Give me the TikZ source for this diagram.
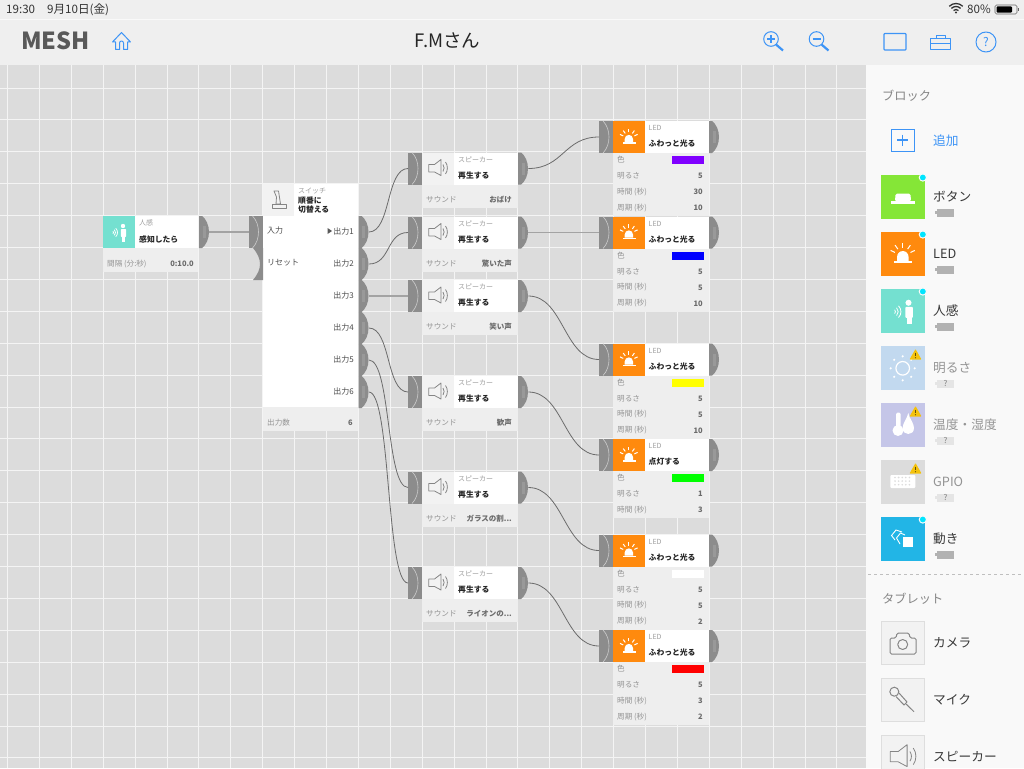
\documentclass[tikz,border=0pt]{standalone}
\usepackage{fontspec}
\setmainfont{Noto Sans CJK JP}
\usepackage{xcolor}
\usetikzlibrary{positioning}

\definecolor{canvasbg}{HTML}{DCDCDC}
\definecolor{barbg}{HTML}{EFEFEF}
\definecolor{panelbg}{HTML}{F9F9F9}
\definecolor{setbg}{HTML}{EEEEEE}
\definecolor{iconbg}{HTML}{F2F2F2}
\definecolor{portgrey}{HTML}{8C8C8C}
\definecolor{linkblue}{HTML}{3D94F6}
\definecolor{ledorange}{HTML}{FF8A0E}
\definecolor{personteal}{HTML}{74E0D0}
\definecolor{buttongreen}{HTML}{85E637}
\definecolor{lightblue}{HTML}{C2D9EF}
\definecolor{tempviolet}{HTML}{C5C6E8}
\definecolor{motionblue}{HTML}{22B5E6}
\definecolor{warnyellow}{HTML}{F4C20D}
\definecolor{dotcyan}{HTML}{00E5FF}
\definecolor{ledpurple}{HTML}{8000FF}
\definecolor{ledblue}{HTML}{0000FF}
\definecolor{ledyellow}{HTML}{FFFF00}
\definecolor{ledgreen}{HTML}{00FF00}
\definecolor{ledred}{HTML}{FF0000}

\tikzset{
	ledicon/.pic={
		\fill[white] (11.7,21) -- (11.7,18) arc (180:360:4.15) -- (20,21) -- cycle;
		\fill[white] (9.5,21) rectangle (22.5,22.8);
		\foreach \a in {205,235,270,305,335}
			\draw[white,line width=1] (15.8,17.5)++(\a:6.2) -- ++(\a:3.5);
	},
	bigled/.pic={\pic[scale=1.375] {ledicon};},
	speakericon/.pic={
		\draw[iconline] (6.7,12) -- (12.5,12) -- (19,7) -- (19,23) -- (12.5,19.5) -- (6.7,19.5) -- cycle;
		\draw[iconline] (21,12) .. controls (22.5,14) and (22.5,17) .. (21,19);
		\draw[iconline] (23.5,9.5) .. controls (26,13) and (26,18) .. (23.5,21.5);
	},
	bigspeaker/.pic={\pic[scale=1.375,line width=1pt] {speakericon};},
	personicon/.pic={
		\fill[white] (20,10) circle (2.2);
		\fill[white,rounded corners=.8] (17.8,13) rectangle (23.2,21);
		\fill[white] (18.6,20) rectangle (22.4,25.5);
		\foreach \r in {2,4,6}
			\draw[white,line width=.8] (8.5,16.5)++(-45:\r) arc (-45:45:\r);
	},
	bigperson/.pic={\pic[scale=1.375] {personicon};},
	switchicon/.pic={
		\draw[iconline] (9,20) rectangle (23,24);
		\draw[iconline] (11,7) -- (15.5,7) -- (17.5,20) -- (13,20) -- (13.5,13) -- cycle;
	},
	buttonicon/.pic={
		\fill[white] (10,26) rectangle (34.3,28.5);
		\fill[white,rounded corners=1.5] (14,26.5) -- (14.5,18.7) -- (29.5,18.7) -- (30,26.5) -- cycle;
	},
	sunicon/.pic={
		\draw[white,line width=1.2] (21.7,22.3) circle (6.8);
		\foreach \a in {0,45,...,315}
			\fill[white] (21.7,22.3)++(\a:12) circle (1.2);
	},
	tempicon/.pic={
		\fill[white] (17,27.5) circle (5.5);
		\fill[white,rounded corners=1.5] (15,9.5) rectangle (19.5,27);
		\fill[white] (27.3,10) .. controls (28.5,16) and (33,20) .. (33,25) .. controls (33,33) and (21.6,33) .. (21.6,25) .. controls (21.6,20) and (26,16) .. (27.3,10) -- cycle;
	},
	gpioicon/.pic={
		\fill[white,rounded corners=1] (9.3,15) rectangle (34.3,28);
		\foreach \i in {0,...,4}
			\foreach \j in {0,1,2}
				\fill[canvasbg] (14+\i*3.6,17.5+\j*3.6) circle (.9);
	},
	motionicon/.pic={
		\draw[white,line width=.9] (21,15) -- (15,13) -- (10.5,18.5) -- (14,23);
		\draw[white,line width=.9] (24,18) -- (19.5,16) -- (15.5,21) -- (19,27);
		\fill[white] (21.7,20) rectangle (32.3,30);
	},
	cameraicon/.pic={
		\draw[iconline,line width=1,rounded corners=1.5] (9,17) -- (15,17) -- (16,12) -- (28,12) -- (29,17) -- (35,17) -- (35,33) -- (9,33) -- cycle;
		\draw[iconline,line width=1] (21.7,23.5) circle (5);
	},
	micicon/.pic={
		\draw[iconline,line width=1] (13.3,13.7) circle (4.5);
		\draw[iconline,line width=1] (18,15) -- (26,24) -- (23,27) -- (15,18.5);
		\draw[iconline,line width=1] (24.5,25.5) -- (33,33.7);
	},
	warnmark/.pic={
		\fill[warnyellow,rounded corners=.6] (0,0) -- (-6,10.5) -- (6,10.5) -- cycle;
		\draw[black!60!warnyellow,line width=1] (0,3.5) -- (0,7);
		\fill[black!60!warnyellow] (0,8.7) circle (.6);
	},
}

\newcommand{\outport}[3]{
	\fill[portgrey,shift={(#2,#3)}] (0,0) -- (3,0) .. controls (7,3) and (10,9) .. (10,16) .. controls (10,23) and (7,29) .. (3,32) -- (0,32) -- cycle;
	\fill[black!30!white,opacity=.35,shift={(#2,#3)}] (3.5,10) rectangle (6.5,22);
	\node[portnode,anchor=west] (#1) at (#2,#3+16) {};
}
\newcommand{\inport}[3]{
	\fill[portgrey] (#2,#3) rectangle ++(14,32);
	\draw[black!20!white,line width=.6,shift={(#2,#3)}] (4,0) .. controls (8,4) and (10,10) .. (10,16) .. controls (10,22) and (8,28) .. (4,32);
	\node[portnode,minimum width=14pt,anchor=west] (#1) at (#2,#3+16) {};
}
\newcommand{\freeport}[3]{
	\fill[portgrey,shift={(#2,#3)}] (0,0) -- (10,0) -- (10,32) -- (0,32) .. controls (5,26) and (7,21) .. (7,16) .. controls (7,11) and (5,6) .. (0,0) -- cycle;
	\node[portnode,anchor=west] (#1) at (#2,#3+16) {};
}
\newcommand{\setrow}[6]{
	\node[setlabel,anchor=west] (#1l) at (#2,#4) {#5};
	\node[setvalue,anchor=east] (#1v) at (#3,#4) {#6};
}
\newcommand{\speakerblock}[3]{
	\inport{#1in}{408}{#2}
	\fill[iconbg] (422,#2) rectangle ++(32,32);
	\fill[white] (454,#2) rectangle ++(63.5,32);
	\fill[setbg] (422,#2+32) rectangle ++(95.5,23);
	\pic at (422,#2) {speakericon};
	\node[kindtext,anchor=west] (#1kind) at (458,#2+7) {スピーカー};
	\node[titletext,anchor=west] (#1title) at (458,#2+23) {再生する};
	\setrow{#1s}{426}{512}{#2+47}{サウンド}{#3}
	\outport{#1out}{518}{#2}
}
\newcommand{\ledblock}[5]{
	\inport{#1in}{599}{#2}
	\fill[ledorange] (613,#2) rectangle ++(32,32);
	\fill[white] (645,#2) rectangle ++(63.5,32);
	\fill[setbg] (613,#2+32) rectangle ++(95.5,#5);
	\pic at (613,#2) {ledicon};
	\node[kindtext,anchor=west] (#1kind) at (648.5,#2+7) {LED};
	\node[titletext,anchor=west] (#1title) at (648.5,#2+23) {#3};
	\node[setlabel,anchor=west] (#1c) at (617,#2+39) {色};
	\fill[#4] (672,#2+35) rectangle ++(31.5,8);
	\outport{#1out}{709}{#2}
}
\newcommand{\ledrows}[4]{
	\setrow{#1b}{617}{703}{#2+55}{明るさ}{#3}
	\setrow{#1t}{617}{703}{#2+71}{時間 (秒)}{#4}
}
\newcommand{\sideblock}[6]{
	\fill[#3] (881,#2) rectangle ++(44,44);
	\pic at (881,#2) {#4};
	\node[#6,anchor=west] (#1) at (933,#2+22) {#5};
}
\newcommand{\tabletblock}[4]{
	\filldraw[fill=iconbg,draw=black!13] (881.5,#2) rectangle ++(43,43.5);
	\pic at (881,#2) {#3};
	\node[sidetext,anchor=west] (#1) at (933,#2+22) {#4};
}
\newcommand{\batterymark}[1]{
	\fill[black!30] (937,#1+33.5) rectangle ++(17,8);
	\fill[black!30] (935,#1+36) rectangle ++(2,3);
}
\newcommand{\unknownmark}[2]{
	\fill[black!10] (937,#2+33.5) rectangle ++(17,8);
	\fill[black!10] (935,#2+36) rectangle ++(2,3);
	\node[font=\fontsize{8}{9}\selectfont,text=black!50] (#1q) at (945.5,#2+37.5) {?};
}
\newcommand{\onlinedot}[1]{
	\filldraw[fill=dotcyan,draw=panelbg,line width=1] (922.8,#1+2.5) circle (3.6);
}

\begin{document}
\begin{tikzpicture}[
		x=1pt, y=-1pt,
		every node/.style={inner sep=0pt},
		gridline/.style={draw=white!70!canvasbg, line width=1pt},
		portnode/.style={minimum width=10pt, minimum height=32pt},
		iconline/.style={draw=black!48, line width=.8pt, line join=round},
		kindtext/.style={font=\fontsize{7}{8}\selectfont, text=black!38},
		titletext/.style={font=\fontsize{7.8}{9}\selectfont\bfseries, text=black!85},
		setlabel/.style={font=\fontsize{7.6}{9}\selectfont, text=black!42},
		setvalue/.style={font=\fontsize{7.5}{9}\selectfont\bfseries, text=black!58},
		porttext/.style={font=\fontsize{8}{9}\selectfont, text=black!70},
		sidetext/.style={font=\fontsize{12.7}{14}\selectfont, text=black!78},
		sidemuted/.style={font=\fontsize{12.7}{14}\selectfont, text=black!42},
		headtext/.style={font=\fontsize{12.2}{14}\selectfont, text=black!48},
		statustext/.style={font=\fontsize{11.6}{13}\selectfont, text=black!80},
		bluetool/.style={draw=linkblue, line width=1pt, line join=round},
		wire/.style={draw=black!58, line width=.8pt},
		flatwire/.style={draw=black!36, line width=1.5pt},
		splitwire/.style={wire, to path={.. controls +(22,0) and +(-22,0) .. (\tikztotarget)}},
		ledwire/.style={wire, to path={.. controls +(35,0) and +(-35,0) .. (\tikztotarget)}},
	]
	\useasboundingbox (0,0) rectangle (1024,768);
	\fill[canvasbg] (0,0) rectangle (1024,768);
	\foreach \i in {0,...,27}
		\draw[gridline] ({7.5+31.9*\i},65) -- ({7.5+31.9*\i},768);
	\foreach \j in {0,...,21}
		\draw[gridline] (0,{88+31.9*\j}) -- (866,{88+31.9*\j});
	\fill[barbg] (0,0) rectangle (1024,65);
	\draw[white!60!barbg,line width=.6] (0,19.5) -- (1024,19.5);
	\fill[panelbg] (866,65) rectangle (1024,768);

	\node[statustext,anchor=west] (clock) at (6,9.5) {19:30};
	\node[statustext,anchor=west] (today) at (47,9.5) {9月10日(金)};
	\node[statustext,anchor=west] (charge) at (967,9.5) {80\%};
	\foreach \r in {3.5,6.5,9.5}
		\draw[black!80,line width=1.3] (956,13)++(-135:\r) arc (225:315:\r);
	\fill[black!80] (956,12.5) circle (1.2);
	\draw[black!60,line width=.6,rounded corners=1.5] (995,5) rectangle (1017,14);
	\fill[black,rounded corners=1] (996.5,6.3) rectangle (1012,12.7);
	\fill[black!60] (1017.8,8) rectangle (1019,11);

	\node[font=\fontsize{23.5}{24}\selectfont\bfseries,text=black!65] (logo) at (55.5,41) {MESH};
	\node[font=\fontsize{18.5}{20}\selectfont,text=black!85] (owner) at (447.5,41) {F.Mさん};
	\draw[bluetool] (112.5,42) -- (121.5,32.5) -- (130.5,42) -- (127.5,42) -- (127.5,49.5) -- (123.5,49.5) -- (123.5,43) arc (0:-180:2) -- (119.5,49.5) -- (115.5,49.5) -- (115.5,42) -- cycle;
	\draw[bluetool] (771,39) circle (7.3);
	\draw[bluetool,line width=2.2] (776,44.5) -- (783,50.5);
	\draw[bluetool,line width=1.4] (767,39) -- (775,39) (771,35) -- (771,43);
	\draw[bluetool] (816.5,39) circle (7.3);
	\draw[bluetool,line width=2.2] (821.5,44.5) -- (828.5,50.5);
	\draw[bluetool,line width=1.4] (812.5,39) -- (820.5,39);
	\draw[bluetool,rounded corners=.8,line width=1.2] (884,33.5) rectangle (906,50);
	\draw[bluetool,line width=.8] (930.5,38) rectangle (950.5,49) (930.5,43) -- (950.5,43) (936,38) -- (936,35) -- (945,35) -- (945,38);
	\draw[bluetool] (986,42) circle (10);
	\node[font=\fontsize{12}{13}\selectfont,text=linkblue] (helpmark) at (986,42) {?};

	\fill[white] (135,216) rectangle (198,248);
	\fill[personteal] (103,216) rectangle (135,248);
	\fill[setbg] (103,248) rectangle (198,272);
	\pic at (103,216) {personicon};
	\node[kindtext,anchor=west] (pirkind) at (139,223) {人感};
	\node[titletext,anchor=west] (pirtitle) at (139,239) {感知したら};
	\setrow{pir}{107}{194}{264}{間隔 (分:秒)}{0:10.0}
	\outport{pirout}{199}{216}

	\fill[white] (263,184) rectangle (358,407);
	\fill[iconbg] (263,184) rectangle (294,216);
	\fill[setbg] (263,407) rectangle (358,431);
	\pic at (263,184) {switchicon};
	\node[kindtext,anchor=west] (swkind) at (298,191) {スイッチ};
	\node[titletext,anchor=west,align=left,font=\fontsize{7.8}{8.6}\selectfont\bfseries] (swtitle) at (298,205) {順番に\\切替える};
	\node[porttext,anchor=west] (swinlabel) at (267,230.5) {入力};
	\node[porttext,anchor=west] (swresetlabel) at (267,262.5) {リセット};
	\foreach \n/\y in {1/216,2/248,3/280,4/312,5/344,6/376}{
		\node[porttext,anchor=east] (swlabel\n) at (354,\y+15) {出力\n};
		\outport{sw\n}{358.5}{\y}
	}
	\fill[black!65] (327.5,228) -- (332,231) -- (327.5,234) -- cycle;
	\setrow{swn}{267}{353}{423}{出力数}{6}
	\inport{swin}{248.5}{216}
	\freeport{swreset}{253}{248}

	\speakerblock{spkA}{152.5}{おばけ}
	\speakerblock{spkB}{216.5}{驚いた声}
	\speakerblock{spkC}{280}{笑い声}
	\speakerblock{spkD}{376}{歓声}
	\speakerblock{spkE}{471.5}{ガラスの割...}
	\speakerblock{spkF}{567}{ライオンの...}

	\ledblock{ledA}{121}{ふわっと光る}{ledpurple}{63}
	\ledrows{ledA}{121}{5}{30}
	\setrow{ledAp}{617}{703}{208}{周期 (秒)}{10}
	\ledblock{ledB}{216.5}{ふわっと光る}{ledblue}{63}
	\ledrows{ledB}{216.5}{5}{5}
	\setrow{ledBp}{617}{703}{303.5}{周期 (秒)}{10}
	\ledblock{ledC}{343.5}{ふわっと光る}{ledyellow}{63}
	\ledrows{ledC}{343.5}{5}{5}
	\setrow{ledCp}{617}{703}{430.5}{周期 (秒)}{10}
	\ledblock{ledD}{439}{点灯する}{ledgreen}{47}
	\ledrows{ledD}{439}{1}{3}
	\ledblock{ledE}{534.5}{ふわっと光る}{white}{63}
	\ledrows{ledE}{534.5}{5}{5}
	\setrow{ledEp}{617}{703}{621.5}{周期 (秒)}{2}
	\ledblock{ledF}{630}{ふわっと光る}{ledred}{63}
	\ledrows{ledF}{630}{5}{3}
	\setrow{ledFp}{617}{703}{717}{周期 (秒)}{2}

	\draw[flatwire] (pirout.east) -- (swin.west);
	\draw[splitwire] (sw1.east) to (spkAin.west);
	\draw[splitwire] (sw2.east) to (spkBin.west);
	\draw[flatwire] (sw3.east) -- (spkCin.west);
	\draw[splitwire] (sw4.east) to (spkDin.west);
	\draw[splitwire] (sw5.east) to (spkEin.west);
	\draw[splitwire] (sw6.east) to (spkFin.west);
	\draw[ledwire] (spkAout.east) to (ledAin.west);
	\draw[flatwire] (spkBout.east) -- (ledBin.west);
	\draw[ledwire] (spkCout.east) to (ledCin.west);
	\draw[ledwire] (spkDout.east) to (ledDin.west);
	\draw[ledwire] (spkEout.east) to (ledEin.west);
	\draw[ledwire] (spkFout.east) to (ledFin.west);

	\node[headtext,anchor=west] (blockhead) at (882,96) {ブロック};
	\draw[linkblue,line width=.8] (891.5,129.5) rectangle (914,151);
	\draw[linkblue,line width=1.6] (897,140) -- (908,140) (902.5,134.5) -- (902.5,145.5);
	\node[sidetext,anchor=west,text=linkblue] (addlabel) at (933,140.5) {追加};

	\sideblock{sbutton}{175}{buttongreen}{buttonicon}{ボタン}{sidetext}
	\batterymark{175} \onlinedot{175}
	\sideblock{sled}{232}{ledorange}{bigled}{LED}{sidetext}
	\batterymark{232} \onlinedot{232}
	\sideblock{spir}{289}{personteal}{bigperson}{人感}{sidetext}
	\batterymark{289} \onlinedot{289}
	\sideblock{ssun}{346}{lightblue}{sunicon}{明るさ}{sidemuted}
	\unknownmark{ssun}{346} \pic at (915.5,349) {warnmark};
	\sideblock{stemp}{403}{tempviolet}{tempicon}{温度・湿度}{sidemuted}
	\unknownmark{stemp}{403} \pic at (915.5,406) {warnmark};
	\sideblock{sgpio}{460}{canvasbg}{gpioicon}{GPIO}{sidemuted}
	\unknownmark{sgpio}{460} \pic at (915.5,463) {warnmark};
	\sideblock{smotion}{517}{motionblue}{motionicon}{動き}{sidetext}
	\batterymark{517} \onlinedot{517}

	\draw[black!25,dashed,line width=.7] (868,574) -- (1024,574);
	\node[headtext,anchor=west] (tablethead) at (882,599) {タブレット};
	\tabletblock{tcamera}{621}{cameraicon}{カメラ}
	\tabletblock{tmic}{678}{micicon}{マイク}
	\tabletblock{tspeaker}{735}{bigspeaker}{スピーカー}
\end{tikzpicture}
\end{document}
